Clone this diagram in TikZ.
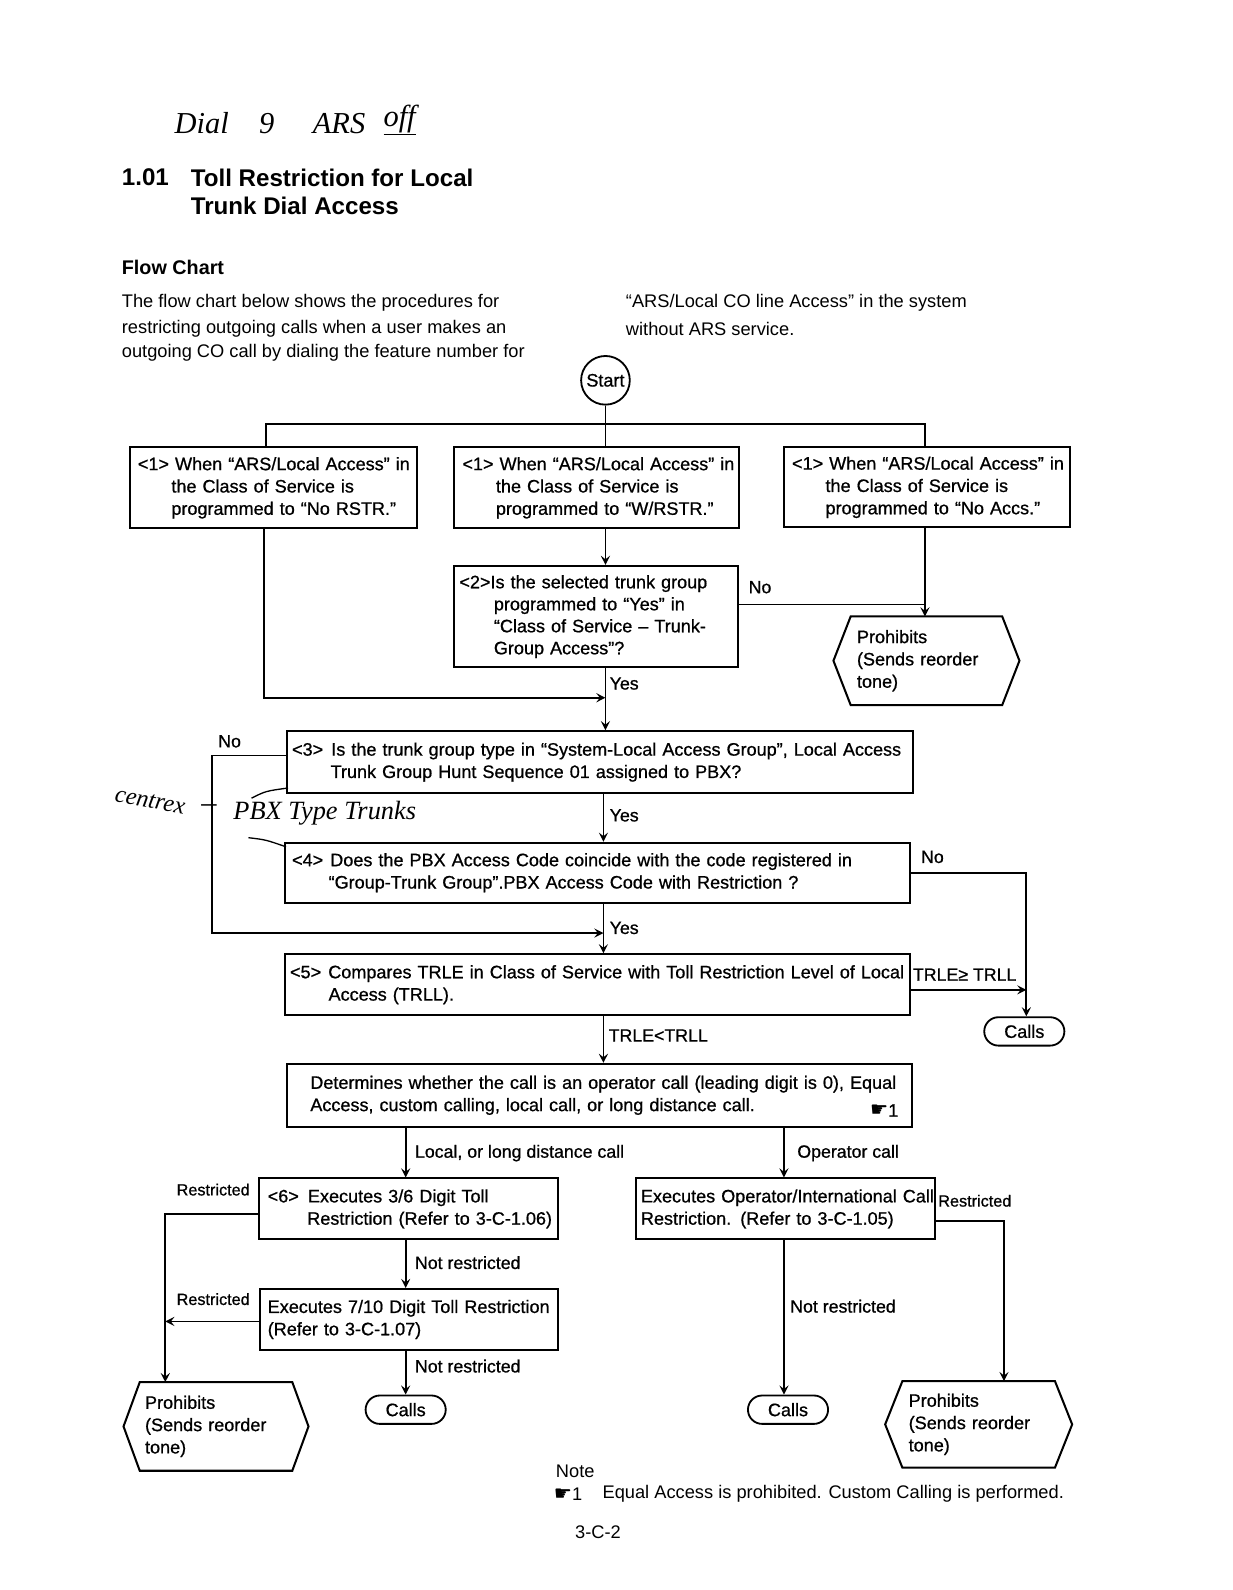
\documentclass[tikz,border=0pt]{standalone}
\usepackage{fontspec}
\setmainfont{Liberation Sans}
\newfontfamily\chartfont[FakeBold=0.8]{Liberation Sans}
\newfontfamily\symfont{DejaVu Sans}
\newfontfamily\handfont{Liberation Serif}
\usetikzlibrary{arrows.meta,calc}
\newcommand\lne[1]{\mbox{#1}}
\newcommand\hexdraw[2]{\draw[bx] ($(#1.north west)+(#2,0)$) -- ($(#1.north east)+(-#2,0)$) -- (#1.east) -- ($(#1.south east)+(-#2,0)$) -- ($(#1.south west)+(#2,0)$) -- (#1.west) -- cycle;}
\begin{document}
\begin{tikzpicture}[x=1pt,y=-1pt,
  bx/.style={line width=2pt},
  ln/.style={line width=1.7pt},
  arr/.style={line width=1.7pt,-{Stealth[length=9pt,width=9pt,inset=3.5pt]}},
  box/.style={draw,line width=2pt,anchor=north west,align=left,inner ysep=0pt,font=\chartfont\fontsize{17.8}{22}\selectfont},
  hexn/.style={align=left,inner ysep=0pt,font=\chartfont\fontsize{17.8}{22}\selectfont},
  calls/.style={draw,line width=1.8pt,rounded corners=14pt,minimum width=79pt,minimum height=28pt,inner sep=0pt,font=\chartfont\fontsize{17.8}{20}\selectfont},
  lbl/.style={inner sep=0pt,anchor=west,font=\chartfont\fontsize{17.5}{20}\selectfont},
  rlbl/.style={inner sep=0pt,anchor=west,font=\chartfont\fontsize{16}{18}\selectfont},
  txt/.style={inner sep=0pt,anchor=west,font=\fontsize{18}{22}\selectfont},
  hand/.style={inner sep=0pt,font=\handfont\itshape\fontsize{30}{32}\selectfont},
  hw/.style={line width=1.3pt}]
\useasboundingbox (0,0) rectangle (1214.8,1567.8);
\fill[white] (0,0) rectangle (1214.8,1567.8);

% handwriting
\node[hand,anchor=west] (hw1) at (172,118) {Dial\hspace{30pt}9\hspace{38pt}ARS\hspace{18pt}\raisebox{7pt}{\underline{off}}};
\node[hand,rotate=-10,font=\handfont\itshape\fontsize{24}{26}\selectfont] (hw2) at (148,790) {centrex};
\node[hand] (hw3) at (206,797) {–};
\node[hand,anchor=west,font=\handfont\itshape\fontsize{26}{28}\selectfont] (hw4) at (230,802) {PBX Type Trunks};
\draw[hw] (248,787) .. controls (262,780) .. (284,777);
\draw[hw] (245,826) .. controls (262,828) .. (282,835);

% title
\node[inner sep=0pt,anchor=west,font=\bfseries\fontsize{23.8}{28}\selectfont] (t0) at (120,175) {1.01};
\node[inner sep=0pt,anchor=west,font=\bfseries\fontsize{23.8}{28}\selectfont] (t1) at (188,175) {Toll Restriction for Local};
\node[inner sep=0pt,anchor=west,font=\bfseries\fontsize{23.8}{28}\selectfont] (t2) at (188,203) {Trunk Dial Access};
\node[inner sep=0pt,anchor=west,font=\bfseries\fontsize{19.5}{22}\selectfont] (fc) at (120,264) {Flow Chart};
\node[txt] (p1l1) at (120,299) {The flow chart below shows the procedures for};
\node[txt] (p1l2) at (120,324) {restricting outgoing calls when a user makes an};
\node[txt] (p1l3) at (120,348) {outgoing CO call by dialing the feature number for};
\node[txt] (p2l1) at (617,299) {“ARS/Local CO line Access” in the system};
\node[txt] (p2l2) at (617,324) {without ARS service.};

% start
\node[draw,circle,line width=1.8pt,minimum size=48pt,inner sep=0pt,font=\chartfont\fontsize{17.8}{20}\selectfont] (start) at (597,375) {Start};

% boxes
\node[box,inner xsep=8pt,text width=267pt,minimum height=80pt] (b1a) at (127,440) {\lne{<1> When “ARS/Local Access” in}\\\lne{\hspace*{33pt}the Class of Service is}\\\lne{\hspace*{33pt}programmed to “No RSTR.”}};
\node[box,inner xsep=8pt,text width=265pt,minimum height=80pt] (b1b) at (447,440) {\lne{<1> When “ARS/Local Access” in}\\\lne{\hspace*{33pt}the Class of Service is}\\\lne{\hspace*{33pt}programmed to “W/RSTR.”}};
\node[box,inner xsep=8pt,text width=266pt,minimum height=79pt] (b1c) at (772,440) {\lne{<1> When “ARS/Local Access” in}\\\lne{\hspace*{33pt}the Class of Service is}\\\lne{\hspace*{33pt}programmed to “No Accs.”}};
\node[box,inner xsep=5pt,text width=270pt,minimum height=100pt,font=\chartfont\fontsize{17.8}{21.7}\selectfont] (b2) at (447,557) {\lne{<2>Is the selected trunk group}\\\lne{\hspace*{34pt}programmed to “Yes” in}\\\lne{\hspace*{34pt}“Class of Service – Trunk-}\\\lne{\hspace*{34pt}Group Access”?}};
\node[box,inner xsep=5pt,text width=607pt,minimum height=61pt] (b3) at (282,720) {\lne{<3>\hspace{8pt}Is the trunk group type in “System-Local Access Group”, Local Access}\\\lne{\hspace*{38pt}Trunk Group Hunt Sequence 01 assigned to PBX?}};
\node[box,inner xsep=7pt,text width=602pt,minimum height=59pt] (b4) at (280,830) {\lne{<4>\hspace{7pt}Does the PBX Access Code coincide with the code registered in}\\\lne{\hspace*{36pt}“Group-Trunk Group”.PBX Access Code with Restriction ?}};
\node[box,inner xsep=5pt,text width=606pt,minimum height=60pt] (b5) at (280,940) {\lne{<5>\hspace{7pt}Compares TRLE in Class of Service with Toll Restriction Level of Local}\\\lne{\hspace*{38pt}Access (TRLL).}};
\node[box,inner xsep=23pt,text width=570pt,minimum height=62pt] (b6) at (282,1048) {\lne{Determines whether the call is an operator call (leading digit is 0), Equal}\\\lne{Access, custom calling, local call, or long distance call.}};
\node[inner sep=0pt,anchor=east,font=\chartfont\fontsize{17.8}{20}\selectfont] (fn) at (886,1095) {{\symfont\fontsize{20}{20}\selectfont ☛}1};
\node[box,inner xsep=9pt,text width=277pt,minimum height=60pt] (b7) at (254,1161) {\lne{<6>\hspace{9pt}Executes 3/6 Digit Toll}\\\lne{\hspace*{39pt}Restriction (Refer to 3-C-1.06)}};
\node[box,inner xsep=8pt,text width=278pt,minimum height=60pt] (b8) at (255,1270) {\lne{Executes 7/10 Digit Toll Restriction}\\\lne{(Refer to 3-C-1.07)}};
\node[box,inner xsep=5pt,text width=285pt,minimum height=60pt] (b9) at (626,1161) {\lne{Executes Operator/International Call}\\\lne{Restriction. (Refer to 3-C-1.05)}};

% prohibits
\node[hexn,inner xsep=23pt,text width=137pt,minimum height=87pt] (p1) at (913.5,651.5) {Prohibits\\(Sends reorder\\tone)};
\hexdraw{p1}{17}
\node[hexn,inner xsep=21pt,text width=140pt,minimum height=87pt] (p2) at (213,1406.5) {Prohibits\\(Sends reorder\\tone)};
\hexdraw{p2}{16}
\node[hexn,inner xsep=23pt,text width=138pt,minimum height=85pt] (p3) at (965,1404.5) {Prohibits\\(Sends reorder\\tone)};
\hexdraw{p3}{17}

% calls
\node[calls] (c1) at (1010,1017) {Calls};
\node[calls] (c2) at (400,1390) {Calls};
\node[calls] (c3) at (777,1390) {Calls};

% connectors
\coordinate (tl) at (262,418);
\coordinate (tr) at (912,418);
\draw[ln] (start.south) -- (start.south |- b1b.north);
\draw[ln] (tl |- b1a.north) -- (tl) -- (tr) -- (tr |- b1c.north);
\draw[arr] (b1b.south -| start) -- (b2.north -| start);
\draw[arr] (b1c.south -| tr) -- (p1.north -| tr);
\draw[ln] ([yshift=12pt]b2.east) -- ([yshift=12pt]b2.east -| tr);
\coordinate (m1) at (260,688);
\draw[arr] (b1a.south -| m1) -- (m1) -- (m1 -| start);
\draw[arr] (b2.south -| start) -- (b3.north -| start);
\coordinate (xb) at (595,0);
\draw[arr] (b3.south -| xb) -- (b4.north -| xb);
\coordinate (nl) at (209,745);
\coordinate (nl2) at (209,920);
\draw[arr] (b3.west |- nl) -- (nl) -- (nl2) -- (nl2 -| xb);
\draw[arr] (b4.south -| xb) -- (b5.north -| xb);
\coordinate (xr) at (1012,0);
\draw[arr] (b4.east) -- (b4.east -| xr) -- (c1.north -| xr);
\draw[arr] ([yshift=-5pt]b5.east) -- ([yshift=-5pt]b5.east -| xr);
\draw[arr] (b5.south -| xb) -- (b6.north -| xb);
\coordinate (xl) at (400,0);
\coordinate (xo) at (773,0);
\draw[arr] (b6.south -| xl) -- (b7.north -| xl);
\draw[arr] (b6.south -| xo) -- (b9.north -| xo);
\draw[arr] (b7.south -| xl) -- (b8.north -| xl);
\draw[arr] (b8.south -| xl) -- (c2.north -| xl);
\coordinate (xp) at (163,0);
\draw[arr] ([yshift=-5pt]b7.west) -- ([yshift=-5pt]b7.west -| xp) -- (p2.north -| xp);
\draw[arr] ([yshift=-2pt]b8.west) -- ([yshift=-2pt]b8.west -| xp);
\coordinate (xq) at (990,0);
\draw[arr] ([yshift=-12pt]b9.east) -- ([yshift=-12pt]b9.east -| xq) -- (p3.north -| xq);
\draw[arr] (b9.south -| xo) -- (c3.north -| xo);

% labels
\node[lbl] (lno1) at (738,579) {No};
\node[lbl] (lyes1) at (601,674) {Yes};
\node[lbl] (lno2) at (215,731) {No};
\node[lbl] (lyes2) at (601,804) {Yes};
\node[lbl] (lno3) at (908,845) {No};
\node[lbl] (lyes3) at (601,915) {Yes};
\node[lbl] (lge) at (900,961) {TRLE≥ TRLL};
\node[lbl] (llt) at (600,1021) {TRLE<TRLL};
\node[lbl] (lloc) at (409,1137) {Local, or long distance call};
\node[lbl] (lop) at (786,1137) {Operator call};
\node[rlbl] (lr1) at (174,1173) {Restricted};
\node[rlbl] (lr2) at (174,1281) {Restricted};
\node[rlbl] (lr3) at (925,1184) {Restricted};
\node[lbl] (lnr1) at (409,1245) {Not restricted};
\node[lbl] (lnr2) at (409,1347) {Not restricted};
\node[lbl] (lnr3) at (779,1288) {Not restricted};

% note
\node[txt] (note) at (548,1451) {Note};
\node[txt] (n1) at (546,1473) {{\symfont\fontsize{20}{20}\selectfont ☛}1};
\node[txt] (n1t) at (594,1473) {Equal Access is prohibited. Custom Calling is performed.};
\node[txt] (pg) at (567,1511) {3-C-2};
\end{tikzpicture}
\end{document}
